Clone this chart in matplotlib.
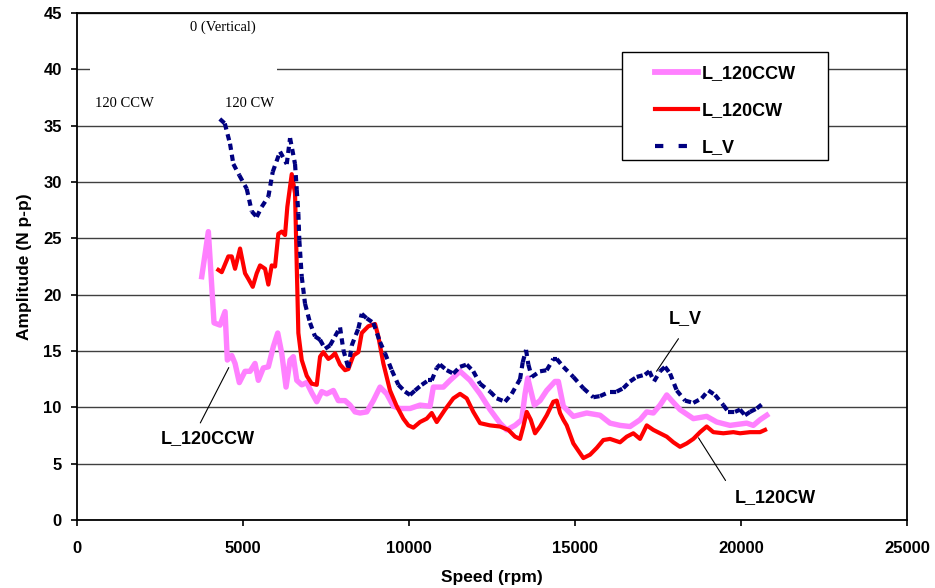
import numpy as np
import matplotlib.pyplot as plt
from matplotlib.collections import LineCollection
from matplotlib.lines import Line2D
from matplotlib.patches import Rectangle

# L_120CCW (pink)
ccw_speed = [3756, 3955, 4126, 4307, 4458, 4527, 4660, 4759, 4888, 5060, 5211, 5361,
             5461, 5611, 5762, 5913, 6045, 6166, 6295, 6416, 6515, 6618, 6768, 6919,
             7069, 7220, 7370, 7521, 7720, 7870, 8072, 8223, 8373, 8524, 8726, 8925,
             9126, 9328, 9527, 9729, 10030, 10331, 10632, 10732, 11033, 11235, 11536,
             11837, 12138, 12440, 12741, 12942, 13193, 13394, 13494, 13575, 13666,
             13774, 13946, 14147, 14397, 14497, 14648, 14949, 15352, 15753, 16054,
             16355, 16656, 16958, 17159, 17358, 17560, 17762, 17912, 18162, 18563,
             18966, 19268, 19668, 20171, 20370, 20572, 20774]
ccw_amp = [21.6, 25.6, 17.5, 17.3, 18.5, 14.2, 14.6, 13.9, 12.2, 13.2, 13.2, 13.9,
           12.4, 13.5, 13.6, 15.4, 16.6, 14.8, 11.8, 14.2, 14.5, 12.4, 12.0, 12.2,
           11.3, 10.5, 11.4, 11.2, 11.5, 10.6, 10.6, 10.2, 9.6, 9.5, 9.6, 10.6,
           11.8, 11.2, 10.1, 9.9, 9.9, 10.2, 10.1, 11.8, 11.8, 12.4, 13.2,
           12.4, 11.2, 9.8, 8.6, 8.0, 8.4, 8.9, 11.2, 12.6, 11.5,
           10.2, 10.6, 11.5, 12.3, 12.3, 10.1, 9.2, 9.5, 9.3, 8.6,
           8.4, 8.3, 8.9, 9.6, 9.5, 10.2, 11.1, 10.6, 9.8, 9.0,
           9.2, 8.7, 8.4, 8.6, 8.4, 8.9, 9.3]

# L_120CW (red)
cw_speed = [4256, 4358, 4557, 4659, 4759, 4910, 5060, 5160, 5292, 5412, 5512, 5663,
            5762, 5864, 5964, 6063, 6166, 6265, 6334, 6467, 6566, 6618, 6666, 6768,
            6919, 7069, 7220, 7320, 7419, 7570, 7671, 7771, 7922, 8072, 8172, 8322,
            8473, 8575, 8774, 8976, 9075, 9226, 9427, 9629, 9828, 9980, 10130, 10331,
            10533, 10683, 10834, 11084, 11334, 11536, 11737, 11936, 12138, 12440,
            12741, 12991, 13193, 13343, 13443, 13545, 13666, 13795, 13946, 14147,
            14346, 14448, 14548, 14648, 14749, 14949, 15250, 15452, 15653, 15852,
            16054, 16355, 16557, 16756, 16958, 17159, 17358, 17560, 17762, 17962,
            18162, 18364, 18563, 18765, 18966, 19165, 19467, 19768, 19969, 20270,
            20572, 20723]
cw_amp = [22.2, 22.0, 23.4, 23.4, 22.3, 24.1, 21.9, 21.4, 20.7, 21.9, 22.6, 22.3,
          20.9, 22.6, 22.5, 25.4, 25.6, 25.3, 27.8, 30.7, 29.0, 22.5, 16.6, 14.2,
          12.8, 12.1, 12.0, 14.5, 14.9, 14.3, 14.5, 14.8, 13.8, 13.3, 13.4, 14.6,
          14.9, 16.6, 17.2, 17.4, 16.3, 13.9, 11.5, 10.1, 9.0, 8.4, 8.2, 8.7,
          9.0, 9.5, 8.7, 9.8, 10.8, 11.2, 10.8, 9.6, 8.6, 8.4,
          8.3, 8.0, 7.4, 7.2, 8.3, 9.6, 8.9, 7.7, 8.3, 9.3,
          10.5, 10.6, 9.5, 8.9, 8.4, 6.8, 5.5, 5.8, 6.4, 7.1,
          7.2, 6.9, 7.4, 7.7, 7.2, 8.4, 8.0, 7.7, 7.4, 6.9,
          6.5, 6.8, 7.2, 7.8, 8.3, 7.8, 7.7, 7.8, 7.7, 7.8,
          7.8, 8.0]

# L_V (navy, dashed)
v_speed = [4300, 4450, 4608, 4708, 4888, 5111, 5262, 5412, 5563, 5762, 5894, 6114,
           6316, 6416, 6566, 6618, 6666, 6696, 6768, 6867, 7018, 7168, 7319, 7470,
           7620, 7771, 7922, 8021, 8172, 8274, 8473, 8575, 8726, 8925, 9126, 9277,
           9479, 9678, 9879, 10030, 10180, 10382, 10581, 10683, 10834, 10933, 11135,
           11334, 11536, 11737, 11936, 12138, 12440, 12641, 12891, 13093, 13343,
           13424, 13524, 13594, 13696, 13946, 14147, 14346, 14448, 14648, 14949,
           15250, 15551, 15753, 16054, 16255, 16454, 16656, 16856, 17106, 17238,
           17379, 17560, 17710, 17862, 18063, 18313, 18563, 18816, 19015, 19217,
           19467, 19618, 19819, 19969, 20120, 20270, 20472, 20723]
v_amp = [35.6, 35.2, 33.4, 31.6, 30.6, 29.4, 27.4, 26.9, 27.8, 28.7, 30.9, 32.7,
         31.6, 33.9, 31.6, 29.3, 27.2, 24.8, 21.6, 19.2, 17.5, 16.3, 16.0, 15.2,
         15.5, 16.3, 17.1, 15.1, 13.5, 15.5, 17.0, 18.3, 17.9, 17.5, 15.8, 14.8,
         13.3, 12.0, 11.4, 11.1, 11.5, 12.0, 12.4, 12.4, 13.5, 13.8, 13.3,
         13.0, 13.6, 13.8, 13.2, 12.1, 11.4, 10.8, 10.5, 11.2, 12.5,
         14.0, 15.1, 13.8, 12.7, 13.2, 13.3, 14.3, 14.3, 13.6, 12.7,
         11.7, 10.9, 11.0, 11.4, 11.4, 11.7, 12.3, 12.7, 12.9, 13.2,
         12.3, 13.2, 13.6, 13.0, 11.5, 10.6, 10.4, 10.8, 11.5, 11.1,
         10.2, 9.6, 9.6, 9.8, 9.3, 9.6, 9.9, 10.5]

plt.rcParams['font.family'] = ['Liberation Sans', 'DejaVu Sans']
plt.rcParams['lines.scale_dashes'] = False

pink = '#FF80FF'
red = '#FF0000'
navy = '#000080'

fig = plt.figure(figsize=(9.35, 5.88), dpi=100)
ax = fig.add_axes([0.0824, 0.1156, 0.8877, 0.8622])

ax.plot(ccw_speed, ccw_amp, color=pink, lw=3.9, zorder=3, solid_joinstyle='round')
ax.plot(cw_speed, cw_amp, color=red, lw=3.0, zorder=4, solid_joinstyle='round')

# dash pattern restarts on every segment, like the spreadsheet drawing
pts = np.column_stack([v_speed, v_amp])
segs = np.stack([pts[:-1], pts[1:]], axis=1)
lc = LineCollection(segs, colors=navy, linewidths=3.0, linestyles=[(0, (4.5, 3.5))],
                    capstyle='butt', zorder=5)
ax.add_collection(lc)

ax.set_xlim(0, 25000)
ax.set_ylim(0, 45)
ax.set_xticks(np.arange(0, 25001, 5000))
ax.set_yticks(np.arange(0, 46, 5))
ax.yaxis.grid(True, color='#404040', lw=1.0, zorder=0)
ax.set_axisbelow(True)
for s in ax.spines.values():
    s.set_linewidth(1.3)
ax.tick_params(axis='both', direction='out', length=4, width=1.2, labelsize=12)
ax.tick_params(axis='x', pad=11)
ax.tick_params(axis='y', pad=7)
for lab in ax.get_xticklabels() + ax.get_yticklabels():
    lab.set_fontweight('bold')

ax.set_xlabel('Speed (rpm)', fontsize=12.5, fontweight='bold', labelpad=10)
ax.set_ylabel('Amplitude (N p-p)', fontsize=12.5, fontweight='bold', labelpad=8)

# white picture area behind the direction labels
ax.add_patch(Rectangle((0.0157, 0.80), 0.225, 0.19, transform=ax.transAxes,
                       facecolor='white', edgecolor='none', zorder=1))
ax.text(3404, 43.7, '0 (Vertical)', family='Liberation Serif', fontsize=10.5,
        va='center', ha='left', zorder=2)
ax.text(542, 37.0, '120 CCW', family='Liberation Serif', fontsize=10.5,
        va='center', ha='left', zorder=2)
ax.text(4458, 37.0, '120 CW', family='Liberation Serif', fontsize=10.5,
        va='center', ha='left', zorder=2)

# legend box
ax.add_patch(Rectangle((0.6566, 0.710), 0.2482, 0.213, transform=ax.transAxes,
                       facecolor='white', edgecolor='black', lw=1.0, zorder=6))
handles = [Line2D([], [], color=pink, lw=4.2),
           Line2D([], [], color=red, lw=3.0),
           Line2D([], [], color=navy, lw=3.0, linestyle=(0, (6, 11)))]
leg = ax.legend(handles, ['L_120CCW', 'L_120CW', 'L_V'], loc='upper left',
                bbox_to_anchor=(0.6852, 0.915), frameon=False, borderpad=0,
                handlelength=2.4, handletextpad=0.2, labelspacing=1.1,
                prop={'weight': 'bold', 'size': 13})
leg.set_zorder(7)

# callouts
ax.annotate('', xy=(17409, 13.0), xytext=(18162, 16.3),
            arrowprops=dict(arrowstyle='-', lw=0.8, color='black'))
ax.text(18313, 17.9, 'L_V', fontsize=13, fontweight='bold', ha='center', va='center')
ax.annotate('', xy=(4608, 13.75), xytext=(3675, 8.4),
            arrowprops=dict(arrowstyle='-', lw=0.8, color='black'))
ax.text(3940, 7.2, 'L_120CCW', fontsize=13, fontweight='bold', ha='center', va='center')
ax.annotate('', xy=(18674, 7.5), xytext=(19578, 3.3),
            arrowprops=dict(arrowstyle='-', lw=0.8, color='black'))
ax.text(21030, 2.0, 'L_120CW', fontsize=13, fontweight='bold', ha='center', va='center')

fig.savefig('out.png', dpi=100)
